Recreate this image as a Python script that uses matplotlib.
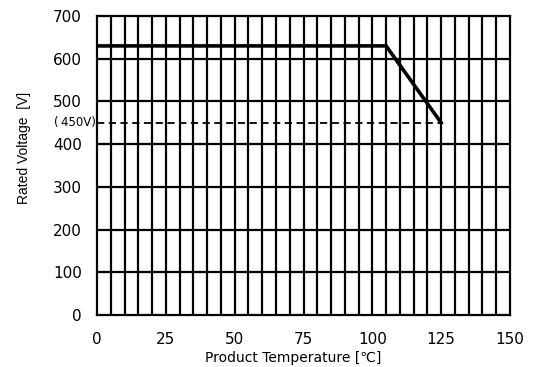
import matplotlib
matplotlib.use("Agg")
import matplotlib.pyplot as plt
import numpy as np

# Derating curve: rated voltage vs product temperature
temp_c = [0, 105, 125]
voltage_v = [630, 630, 450]
derated_v = 450
x_ticks = [0, 25, 50, 75, 100, 125, 150]
y_ticks = [0, 100, 200, 300, 400, 500, 600, 700]

plt.rcParams['font.family'] = ['DejaVu Sans']

fig = plt.figure(figsize=(5.37, 3.67), dpi=100)
ax = fig.add_axes([97 / 537, 1 - 315 / 367, 413 / 537, 299 / 367])

ax.set_xlim(0, 150)
ax.set_ylim(0, 700)

# dense grid: every 5 degC, every 100 V
for x in np.arange(5, 150, 5):
    ax.axvline(x, color='black', lw=1.6, zorder=1)
for y in np.arange(100, 700, 100):
    ax.axhline(y, color='black', lw=1.6, zorder=1)

ax.plot([0, temp_c[-1]], [derated_v, derated_v], color='black', lw=1.3,
        linestyle=(0, (4, 2.5)), zorder=2)
ax.plot(temp_c, voltage_v, color='black', lw=2.6, zorder=3,
        solid_joinstyle='miter')

ax.text(-0.4, derated_v, '(\u2009450V)', ha='right', va='center', fontsize=8.5)

ax.set_xticks(x_ticks)
ax.set_yticks(y_ticks)
ax.tick_params(length=0, labelsize=11)
ax.tick_params(axis='x', pad=12)
ax.tick_params(axis='y', pad=11)
for s in ax.spines.values():
    s.set_linewidth(1.6)

fig.text(293 / 537, 1 - 358 / 367, 'Product Temperature [\u2103]', fontsize=10,
         ha='center', va='center')
fig.text(24 / 537, 1 - 148 / 367, 'Rated Voltage  [V]', fontsize=10,
         rotation=90, ha='center', va='center', family='Liberation Sans')

fig.savefig('out.png', dpi=100)
